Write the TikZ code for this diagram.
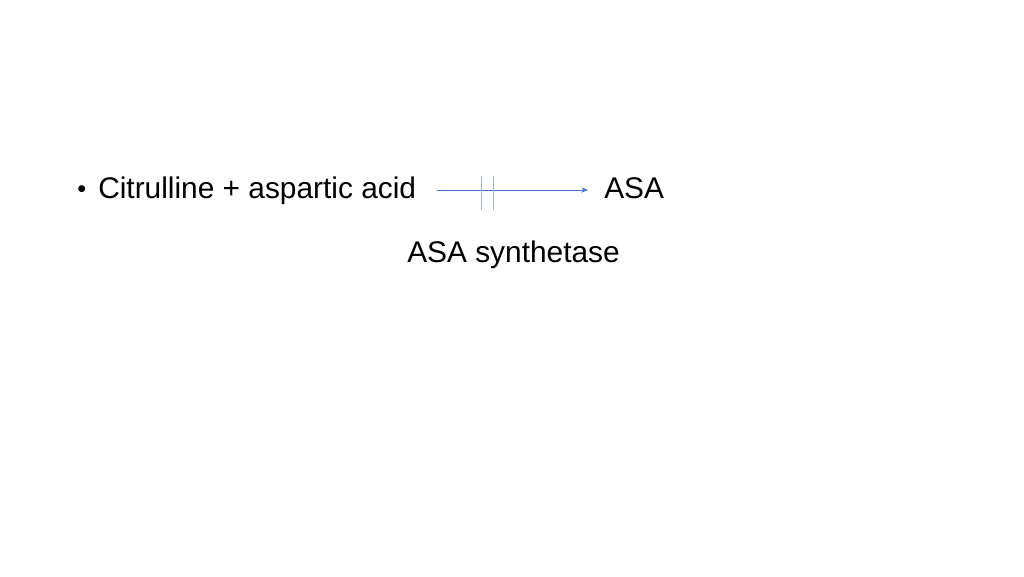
\documentclass[tikz,border=0pt]{standalone}
\usepackage{fontspec}
\setmainfont{Liberation Sans}
\usetikzlibrary{arrows.meta}
\definecolor{arrblue}{HTML}{4472C4}
\definecolor{barblue}{HTML}{9DB4E0}
\begin{document}
\begin{tikzpicture}[x=0.75pt,y=-0.75pt,
  txt/.style={inner sep=0pt,anchor=base west,font=\fontsize{22.4}{26}\selectfont},
  arr/.style={draw=arrblue,line width=0.6pt,-{Stealth[length=5pt,width=4pt]}},
  bar/.style={draw=barblue,line width=0.7pt}]
\useasboundingbox (0,0) rectangle (1024,576);
\node[txt,font=\fontsize{19}{22}\selectfont] (bul) at (77,197) {•};
\node[txt] (l) at (98,198) {Citrulline + aspartic acid};
\node[txt] (r) at (604,198) {ASA};
\node[txt] (e) at (407,262) {ASA synthetase};
\coordinate (a0) at (437,190);
\coordinate (a1) at (588,190);
\draw[arr] (a0) -- (a1);
\coordinate (b1t) at (481,176); \coordinate (b1b) at (481,210);
\coordinate (b2t) at (493,176); \coordinate (b2b) at (493,210);
\draw[bar] (b1t) -- (b1b);
\draw[bar] (b2t) -- (b2b);
\end{tikzpicture}
\end{document}
